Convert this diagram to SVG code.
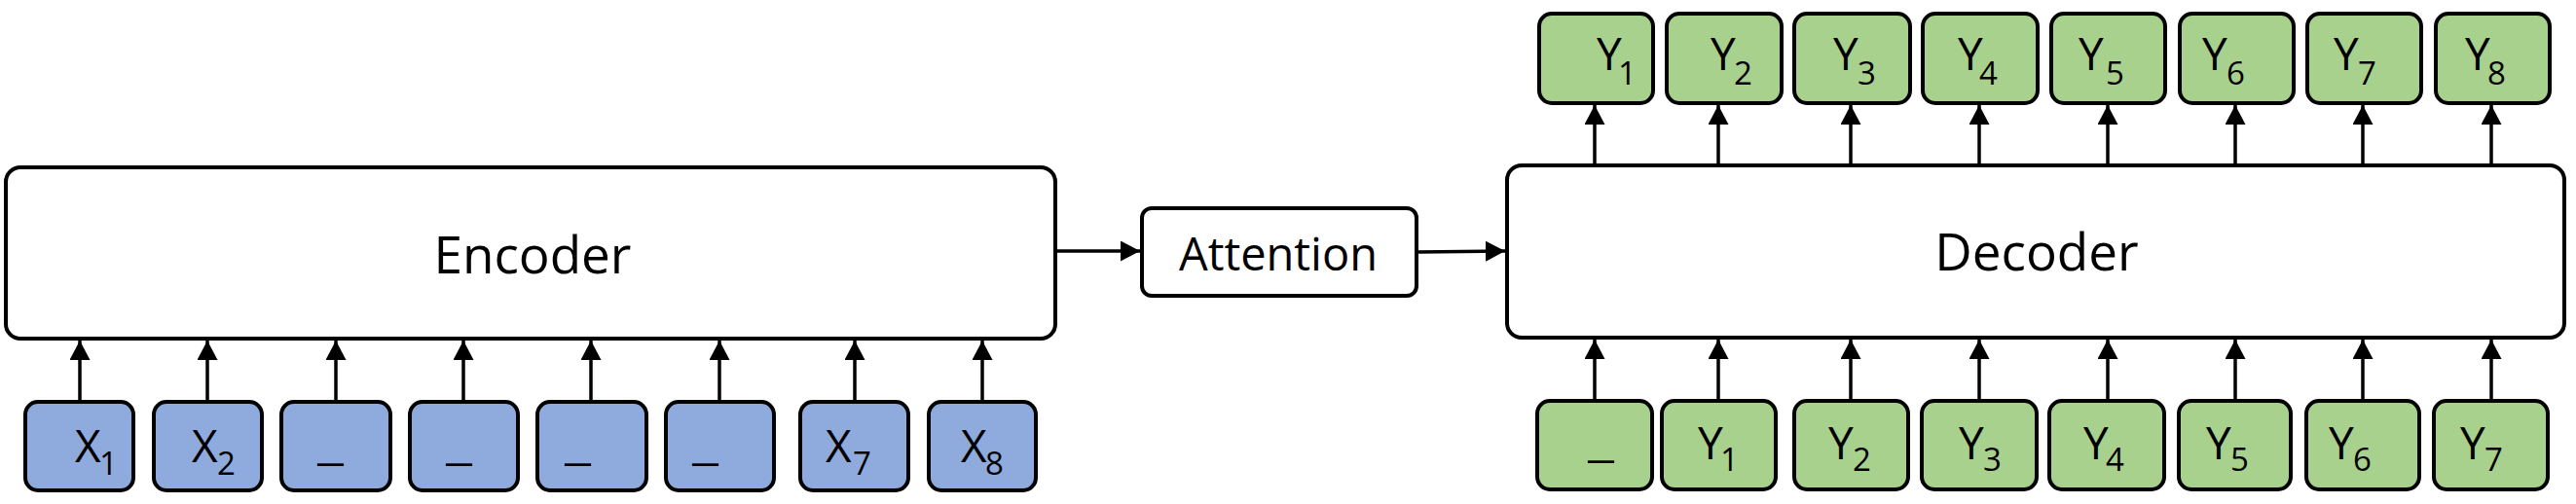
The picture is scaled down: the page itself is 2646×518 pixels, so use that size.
<svg xmlns="http://www.w3.org/2000/svg" width="2646" height="518" viewBox="0 0 2646 518">
<style>
.big{fill:#fff;stroke:#000;stroke-width:4}
.x{fill:#8FAADC;stroke:#000;stroke-width:4}
.y{fill:#A9D18E;stroke:#000;stroke-width:4}
text{font-family:"Open Sans","DejaVu Sans",sans-serif;fill:#000}
.lbl{font-size:46px}
.sub{font-size:33px}
.title{font-size:53px;text-anchor:middle}
.att{font-size:47px;text-anchor:middle}
.c line{stroke:#000;stroke-width:3.5;marker-end:url(#ah)}
.c path{fill:none;stroke:#000;stroke-width:3.5;marker-end:url(#ah)}
</style>
<defs>
<marker id="ah" markerUnits="userSpaceOnUse" markerWidth="22" markerHeight="22" refX="20" refY="10.5" orient="auto">
<path d="M0,0 L20,10.5 L0,21 z" fill="#000"/>
</marker>
</defs>
<rect width="2646" height="518" fill="#fff"/>

<g id="encoder"><rect class="big" x="6" y="172" width="1078" height="176" rx="15"/><text class="title" x="547" y="281">Encoder</text></g>
<g id="attention"><rect class="big" x="1173" y="214" width="282" height="90" rx="10"/><text class="att" x="1313" y="278">Attention</text></g>
<g id="decoder"><rect class="big" x="1548" y="170" width="1086" height="177" rx="15"/><text class="title" x="2092" y="278">Decoder</text></g>

<g id="x1"><rect class="x" x="26" y="413" width="111" height="91" rx="13"/><text class="lbl" x="77" y="475">X<tspan class="sub" x="102" y="488">1</tspan></text></g>
<g id="x2"><rect class="x" x="158" y="413" width="111" height="91" rx="13"/><text class="lbl" x="197" y="475">X<tspan class="sub" x="223" y="488">2</tspan></text></g>
<g id="x3"><rect class="x" x="289" y="413" width="112" height="91" rx="13"/><text class="lbl" x="326" y="472" textLength="27" lengthAdjust="spacingAndGlyphs">_</text></g>
<g id="x4"><rect class="x" x="421" y="413" width="111" height="91" rx="13"/><text class="lbl" x="458" y="472" textLength="27" lengthAdjust="spacingAndGlyphs">_</text></g>
<g id="x5"><rect class="x" x="552" y="413" width="112" height="91" rx="13"/><text class="lbl" x="580" y="472" textLength="27" lengthAdjust="spacingAndGlyphs">_</text></g>
<g id="x6"><rect class="x" x="684" y="413" width="111" height="91" rx="13"/><text class="lbl" x="711" y="472" textLength="27" lengthAdjust="spacingAndGlyphs">_</text></g>
<g id="x7"><rect class="x" x="822" y="413" width="111" height="91" rx="13"/><text class="lbl" x="848" y="475">X<tspan class="sub" x="876" y="488">7</tspan></text></g>
<g id="x8"><rect class="x" x="954" y="413" width="110" height="91" rx="13"/><text class="lbl" x="987" y="475">X<tspan class="sub" x="1012" y="488">8</tspan></text></g>

<g id="yin0"><rect class="y" x="1579" y="412" width="118" height="91" rx="13"/><text class="lbl" x="1631" y="469" textLength="27" lengthAdjust="spacingAndGlyphs">_</text></g>
<g id="yin1"><rect class="y" x="1707" y="412" width="117" height="91" rx="13"/><text class="lbl" x="1744" y="472">Y<tspan class="sub" x="1767" y="484">1</tspan></text></g>
<g id="yin2"><rect class="y" x="1843" y="412" width="117" height="91" rx="13"/><text class="lbl" x="1878" y="472">Y<tspan class="sub" x="1903" y="484">2</tspan></text></g>
<g id="yin3"><rect class="y" x="1974" y="412" width="118" height="91" rx="13"/><text class="lbl" x="2012" y="472">Y<tspan class="sub" x="2037" y="484">3</tspan></text></g>
<g id="yin4"><rect class="y" x="2105" y="412" width="118" height="91" rx="13"/><text class="lbl" x="2140" y="472">Y<tspan class="sub" x="2163" y="484">4</tspan></text></g>
<g id="yin5"><rect class="y" x="2238" y="412" width="115" height="91" rx="13"/><text class="lbl" x="2266" y="472">Y<tspan class="sub" x="2291" y="484">5</tspan></text></g>
<g id="yin6"><rect class="y" x="2369" y="412" width="116" height="91" rx="13"/><text class="lbl" x="2392" y="472">Y<tspan class="sub" x="2417" y="484">6</tspan></text></g>
<g id="yin7"><rect class="y" x="2500" y="412" width="117" height="91" rx="13"/><text class="lbl" x="2527" y="472">Y<tspan class="sub" x="2552" y="484">7</tspan></text></g>

<g id="yout1"><rect class="y" x="1581" y="14" width="117" height="92" rx="13"/><text class="lbl" x="1640" y="72">Y<tspan class="sub" x="1662" y="87">1</tspan></text></g>
<g id="yout2"><rect class="y" x="1712" y="14" width="118" height="92" rx="13"/><text class="lbl" x="1757" y="72">Y<tspan class="sub" x="1781" y="87">2</tspan></text></g>
<g id="yout3"><rect class="y" x="1843" y="14" width="119" height="92" rx="13"/><text class="lbl" x="1883" y="72">Y<tspan class="sub" x="1908" y="87">3</tspan></text></g>
<g id="yout4"><rect class="y" x="1975" y="14" width="118" height="92" rx="13"/><text class="lbl" x="2011" y="72">Y<tspan class="sub" x="2033" y="87">4</tspan></text></g>
<g id="yout5"><rect class="y" x="2107" y="14" width="117" height="92" rx="13"/><text class="lbl" x="2135" y="72">Y<tspan class="sub" x="2163" y="87">5</tspan></text></g>
<g id="yout6"><rect class="y" x="2239" y="14" width="117" height="92" rx="13"/><text class="lbl" x="2262" y="72">Y<tspan class="sub" x="2287" y="87">6</tspan></text></g>
<g id="yout7"><rect class="y" x="2370" y="14" width="117" height="92" rx="13"/><text class="lbl" x="2397" y="72">Y<tspan class="sub" x="2422" y="87">7</tspan></text></g>
<g id="yout8"><rect class="y" x="2502" y="14" width="117" height="92" rx="13"/><text class="lbl" x="2532" y="72">Y<tspan class="sub" x="2555" y="87">8</tspan></text></g>

<g id="connectors" class="c">
<line x1="82" y1="411" x2="82" y2="350"/>
<line x1="213" y1="411" x2="213" y2="350"/>
<line x1="345" y1="411" x2="345" y2="350"/>
<line x1="476" y1="411" x2="476" y2="350"/>
<line x1="607" y1="411" x2="607" y2="350"/>
<line x1="739" y1="411" x2="739" y2="350"/>
<line x1="878" y1="411" x2="878" y2="350"/>
<line x1="1009" y1="411" x2="1009" y2="350"/>
<line x1="1086" y1="258" x2="1171" y2="258"/>
<line x1="1457" y1="259" x2="1546" y2="258"/>
<line x1="1638" y1="410" x2="1638" y2="349"/>
<line x1="1765" y1="410" x2="1765" y2="349"/>
<line x1="1901" y1="410" x2="1901" y2="349"/>
<line x1="2033" y1="410" x2="2033" y2="349"/>
<line x1="2165" y1="410" x2="2165" y2="349"/>
<line x1="2296" y1="410" x2="2296" y2="349"/>
<line x1="2427" y1="410" x2="2427" y2="349"/>
<line x1="2559" y1="410" x2="2559" y2="349"/>
<line x1="1638" y1="168" x2="1638" y2="108"/>
<line x1="1765" y1="168" x2="1765" y2="108"/>
<line x1="1901" y1="168" x2="1901" y2="108"/>
<line x1="2033" y1="168" x2="2033" y2="108"/>
<line x1="2165" y1="168" x2="2165" y2="108"/>
<line x1="2296" y1="168" x2="2296" y2="108"/>
<line x1="2427" y1="168" x2="2427" y2="108"/>
<line x1="2559" y1="168" x2="2559" y2="108"/>
</g>
</svg>
